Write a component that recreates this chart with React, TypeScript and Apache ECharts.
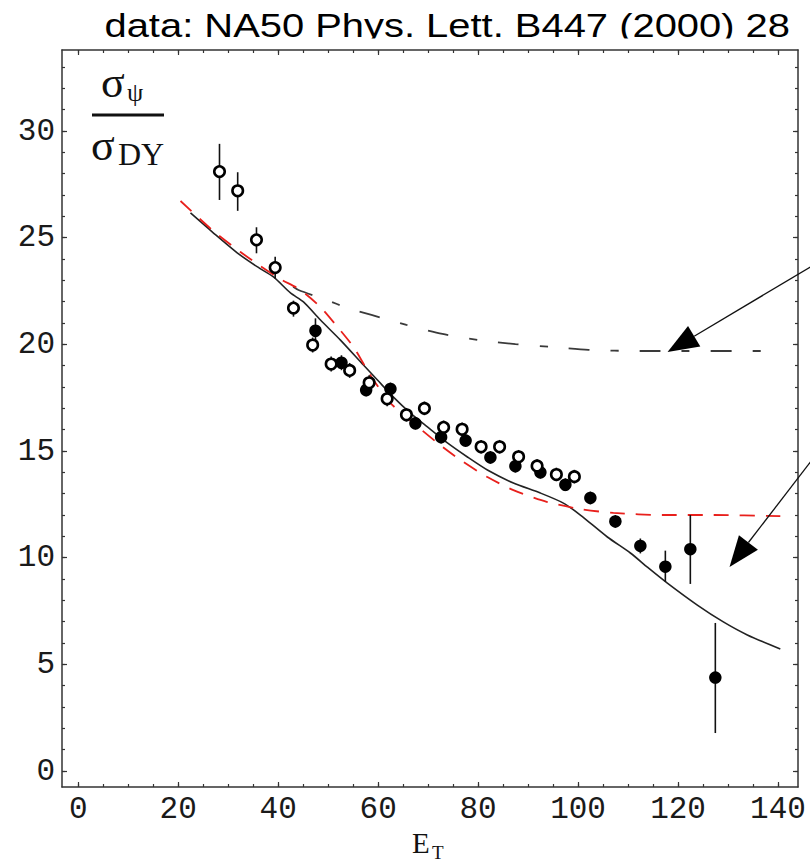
import React, { useEffect, useRef } from "react";
import * as echarts from "echarts";

// ---- data ----
const titleText = "data: NA50 Phys. Lett. B447 (2000) 28";

const xMajorTicks = [0, 20, 40, 60, 80, 100, 120, 140];
const xMinorTicks = [0, 5, 10, 15, 20, 25, 30, 35, 40, 45, 50, 55, 60, 65, 70, 75, 80, 85, 90, 95, 100, 105, 110, 115, 120, 125, 130, 135, 140];
const yMajorTicks = [0, 5, 10, 15, 20, 25, 30];
const yMinorTicks = [0, 1, 2, 3, 4, 5, 6, 7, 8, 9, 10, 11, 12, 13, 14, 15, 16, 17, 18, 19, 20, 21, 22, 23, 24, 25, 26, 27, 28, 29, 30, 31, 32, 33];

// open circles: [E_T, ratio]
const openPoints = [
  [28.26, 28.1], [31.9, 27.2], [35.66, 24.9], [39.4, 23.6], [43.06, 21.7],
  [46.9, 19.97], [50.6, 19.08], [54.3, 18.78], [58.2, 18.2], [61.8, 17.45],
  [65.66, 16.7], [69.26, 17.0], [73.1, 16.11], [76.8, 16.02], [80.6, 15.2],
  [84.3, 15.2], [88.1, 14.73], [91.8, 14.3], [95.66, 13.9], [99.26, 13.8],
];
// open circle error bars: [E_T, low, high]
const openErrors = [
  [28.26, 26.77, 29.4], [31.9, 26.26, 28.07], [35.66, 24.27, 25.49], [39.4, 23.09, 24.11], [43.06, 21.3, 22.05],
  [46.9, 19.62, 20.32], [50.6, 18.73, 19.43], [54.3, 18.43, 19.13], [58.2, 17.85, 18.55], [61.8, 17.1, 17.8],
  [65.66, 16.38, 17.02], [69.26, 16.68, 17.32], [73.1, 15.79, 16.43], [76.8, 15.7, 16.34], [80.6, 14.88, 15.52],
  [84.3, 14.88, 15.52], [88.1, 14.41, 15.05], [91.8, 13.98, 14.62], [95.66, 13.58, 14.22], [99.26, 13.48, 14.12],
];

// filled circles: [E_T, ratio]
const filledPoints = [
  [47.46, 20.64], [52.66, 19.14], [57.6, 17.86], [62.46, 17.91], [67.46, 16.3],
  [72.6, 15.65], [77.5, 15.49], [82.46, 14.7], [87.46, 14.29], [92.46, 14.0],
  [97.46, 13.42], [102.46, 12.8], [107.46, 11.7], [112.46, 10.55], [117.46, 9.58],
  [122.46, 10.4], [127.46, 4.38],
];
const filledErrors = [
  [47.46, 20.06, 21.22], [52.66, 18.79, 19.49], [57.6, 17.56, 18.16], [62.46, 17.61, 18.21], [67.46, 16.0, 16.6],
  [72.6, 15.35, 15.95], [77.5, 15.19, 15.79], [82.46, 14.4, 15.0], [87.46, 13.99, 14.59], [92.46, 13.7, 14.3],
  [97.46, 13.12, 13.72], [102.46, 12.5, 13.1], [107.46, 11.4, 12.0], [112.46, 10.2, 10.9], [117.46, 8.87, 10.33],
  [122.46, 8.77, 12.0], [127.46, 1.78, 6.94],
];

// solid black model curve
const solidCurve = [
  [22.46, 26.16], [27.06, 25.22], [31.86, 24.28], [35.86, 23.63], [39.06, 23.16],
  [42.46, 22.41], [45.06, 21.99], [48.46, 21.14], [52.46, 20.2], [57.06, 19.03],
  [59.86, 18.33], [63.06, 17.53], [66.46, 16.78], [69.86, 16.13], [73.86, 15.38],
  [77.86, 14.72], [81.86, 14.11], [87.06, 13.5], [92.46, 13.03], [97.06, 12.56],
  [100.46, 12.0], [105.86, 10.97], [110.46, 10.22], [113.86, 9.56], [117.86, 8.81],
  [123.86, 7.78], [129.06, 6.99], [133.86, 6.38], [140.46, 5.72],
];

// red dashed model curve
const redCurve = [
  [20.46, 26.72], [27.06, 25.31], [32.46, 24.33], [36.46, 23.67], [40.46, 23.06],
  [44.46, 22.55], [48.46, 21.75], [51.86, 20.82], [55.06, 19.88], [57.46, 18.94],
  [59.06, 18.33], [62.46, 17.25], [67.06, 16.31], [71.86, 15.38], [76.46, 14.58],
  [81.86, 13.78], [87.06, 13.17], [93.86, 12.61], [100.46, 12.28], [107.06, 12.1],
  [117.06, 12.0], [127.06, 12.0], [140.46, 11.95],
];

// dash-dot model curve
const dashDotCurve = [
  [43.0, 22.7], [44.06, 22.55], [49.66, 22.08], [53.86, 21.71], [58.66, 21.38],
  [65.66, 20.91], [72.86, 20.49], [80.06, 20.2], [87.46, 20.01], [94.66, 19.88],
  [102.06, 19.74], [112.46, 19.69], [140.46, 19.69],
];

// annotation arrows: [fromX, fromY, toX, toY] in data units
const arrowLines = [
  [146.5, 23.63, 117.9, 19.64],
  [146.5, 14.49, 130.3, 9.56],
];

const AXIS_COLOR = "#333";

function makeXAxis(position: string, ticks: number[], len: number, showLine: boolean, showLabel: boolean) {
  return {
    type: "value",
    gridIndex: 0,
    position,
    min: -3.25,
    max: 144,
    axisLine: { show: showLine, onZero: false, lineStyle: { color: AXIS_COLOR, width: 1.5 } },
    axisTick: { show: true, inside: true, length: len, customValues: ticks, lineStyle: { color: AXIS_COLOR, width: 1.2 } },
    axisLabel: showLabel
      ? { show: true, customValues: ticks, fontFamily: "Liberation Mono", fontSize: 31, color: "#1a1a1a", margin: 7 }
      : { show: false },
    splitLine: { show: false },
  };
}

function makeYAxis(position: string, ticks: number[], len: number, showLine: boolean, showLabel: boolean) {
  return {
    type: "value",
    gridIndex: 0,
    position,
    min: -0.75,
    max: 33.8,
    axisLine: { show: showLine, onZero: false, lineStyle: { color: AXIS_COLOR, width: 1.5 } },
    axisTick: { show: true, inside: true, length: len, customValues: ticks, lineStyle: { color: AXIS_COLOR, width: 1.2 } },
    axisLabel: showLabel
      ? { show: true, customValues: ticks, fontFamily: "Liberation Mono", fontSize: 31, color: "#1a1a1a", margin: 7 }
      : { show: false },
    splitLine: { show: false },
  };
}

function errorBarRender(params: any, api: any) {
  const x = api.value(0);
  const lo = api.coord([x, api.value(1)]);
  const hi = api.coord([x, api.value(2)]);
  return {
    type: "line",
    shape: { x1: lo[0], y1: lo[1], x2: hi[0], y2: hi[1] },
    style: { stroke: "#111", lineWidth: 1.6 },
  };
}

export default function App() {
  const ref = useRef<HTMLDivElement>(null);

  useEffect(() => {
    document.body.style.margin = "0";
    if (!ref.current) return;
    const chart = echarts.init(ref.current, null, { renderer: "svg" });

    const option: any = {
      animation: false,
      backgroundColor: "#fff",
      grid: { left: 62, right: 12, top: 50, bottom: 75, containLabel: false, outerBoundsMode: "none" },
      xAxis: [
        makeXAxis("bottom", xMajorTicks, 5, true, true),
        makeXAxis("bottom", xMinorTicks, 3, false, false),
        makeXAxis("top", xMajorTicks, 5, true, false),
        makeXAxis("top", xMinorTicks, 3, false, false),
      ],
      yAxis: [
        makeYAxis("left", yMajorTicks, 5, true, true),
        makeYAxis("left", yMinorTicks, 3, false, false),
        makeYAxis("right", yMajorTicks, 5, true, false),
        makeYAxis("right", yMinorTicks, 3, false, false),
      ],
      series: [
        {
          type: "line",
          name: "solid",
          data: solidCurve,
          showSymbol: false,
          symbol: "none",
          smooth: 0.25,
          lineStyle: { color: "#222", width: 1.6 },
          z: 2,
        },
        {
          type: "line",
          name: "red",
          data: redCurve,
          showSymbol: false,
          symbol: "none",
          smooth: 0.25,
          lineStyle: { color: "#e8201c", width: 1.8, type: [15, 11] },
          z: 3,
        },
        {
          type: "line",
          name: "dashdot",
          data: dashDotCurve,
          showSymbol: false,
          symbol: "none",
          smooth: 0.25,
          lineStyle: { color: "#3a3a3a", width: 1.8, type: [21, 21, 8, 21] },
          z: 2,
        },
        {
          type: "custom",
          name: "openErr",
          data: openErrors,
          renderItem: errorBarRender,
          encode: { x: 0, y: [1, 2] },
          z: 4,
        },
        {
          type: "custom",
          name: "filledErr",
          data: filledErrors,
          renderItem: errorBarRender,
          encode: { x: 0, y: [1, 2] },
          z: 4,
        },
        {
          type: "scatter",
          name: "filled",
          data: filledPoints,
          symbol: "circle",
          symbolSize: 12.5,
          itemStyle: { color: "#000", opacity: 1 },
          z: 5,
        },
        {
          type: "scatter",
          name: "open",
          data: openPoints,
          symbol: "circle",
          symbolSize: 10.5,
          itemStyle: { color: "#fff", borderColor: "#000", borderWidth: 2.6, opacity: 1 },
          z: 6,
        },
      ],
    };

    chart.setOption(option);

    const toPx = (v: number[]) => chart.convertToPixel({ xAxisIndex: 0, yAxisIndex: 0 }, v) as number[];

    const graphics: any[] = [];
    // title (clipped bottom like the reference)
    graphics.push({
      type: "group",
      x: 790,
      y: 25.5,
      scaleX: 1.21,
      children: [
        {
          type: "text",
          style: {
            text: titleText,
            font: "33px 'Liberation Sans', Arial, sans-serif",
            fill: "#000",
            textAlign: "right",
            textVerticalAlign: "middle",
          },
        },
      ],
      z: 10,
    });
    graphics.push({
      type: "rect",
      shape: { x: 80, y: 38.6, width: 730, height: 10 },
      style: { fill: "#fff" },
      z: 11,
    });

    // y-axis label: sigma_psi / sigma_DY
    graphics.push({
      type: "text",
      x: 101,
      y: 82,
      style: { text: "σ", font: "44px 'Liberation Serif', 'Times New Roman', serif", fill: "#111", textAlign: "left", textVerticalAlign: "middle" },
      z: 10,
    });
    graphics.push({
      type: "text",
      x: 127,
      y: 92,
      style: { text: "ψ", font: "26px 'Liberation Serif', 'Times New Roman', serif", fill: "#111", textAlign: "left", textVerticalAlign: "middle" },
      z: 10,
    });
    graphics.push({
      type: "rect",
      shape: { x: 92, y: 113.5, width: 72, height: 3 },
      style: { fill: "#111" },
      z: 10,
    });
    graphics.push({
      type: "text",
      x: 91,
      y: 145,
      style: { text: "σ", font: "44px 'Liberation Serif', 'Times New Roman', serif", fill: "#111", textAlign: "left", textVerticalAlign: "middle" },
      z: 10,
    });
    graphics.push({
      type: "text",
      x: 118,
      y: 154,
      style: { text: "DY", font: "32px 'Liberation Serif', 'Times New Roman', serif", fill: "#111", textAlign: "left", textVerticalAlign: "middle" },
      z: 10,
    });

    // x-axis label E_T
    graphics.push({
      type: "text",
      x: 412,
      y: 843,
      style: { text: "E", font: "29px 'Liberation Serif', 'Times New Roman', serif", fill: "#111", textAlign: "left", textVerticalAlign: "middle" },
      z: 10,
    });
    graphics.push({
      type: "text",
      x: 432,
      y: 852,
      style: { text: "T", font: "19px 'Liberation Serif', 'Times New Roman', serif", fill: "#111", textAlign: "left", textVerticalAlign: "middle" },
      z: 10,
    });

    // arrows
    arrowLines.forEach((a) => {
      const f = toPx([a[0], a[1]]);
      const t = toPx([a[2], a[3]]);
      const dx = t[0] - f[0];
      const dy = t[1] - f[1];
      const len = Math.sqrt(dx * dx + dy * dy);
      const ux = dx / len;
      const uy = dy / len;
      const headLen = 31;
      const halfW = 12;
      const bx = t[0] - ux * headLen;
      const by = t[1] - uy * headLen;
      const nx = -uy;
      const ny = ux;
      graphics.push({
        type: "line",
        shape: { x1: f[0], y1: f[1], x2: bx, y2: by },
        style: { stroke: "#111", lineWidth: 1.3 },
        z: 10,
      });
      graphics.push({
        type: "polygon",
        shape: {
          points: [
            [t[0], t[1]],
            [bx + nx * halfW, by + ny * halfW],
            [bx - nx * halfW, by - ny * halfW],
          ],
        },
        style: { fill: "#000" },
        z: 10,
      });
    });

    chart.setOption({ graphic: graphics });

    return () => {
      chart.dispose();
    };
  }, []);

  return <div ref={ref} style={{ width: 810, height: 862 }} />;
}
